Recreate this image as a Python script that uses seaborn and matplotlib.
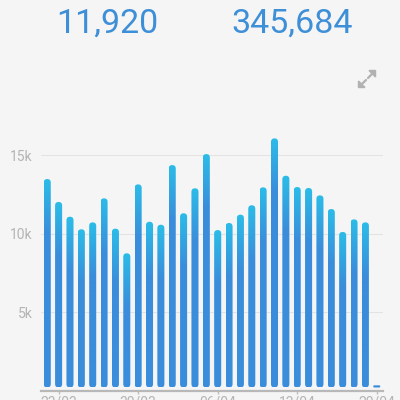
import matplotlib
matplotlib.use("Agg")
import matplotlib.pyplot as plt
import seaborn as sns
import numpy as np
import pandas as pd
from matplotlib.patches import FancyBboxPatch, Polygon
from matplotlib.colors import LinearSegmentedColormap
from matplotlib.lines import Line2D

# daily views, 22/03 .. 20/04
days = ["22/03", "23/03", "24/03", "25/03", "26/03", "27/03", "28/03", "29/03",
        "30/03", "31/03", "01/04", "02/04", "03/04", "04/04", "05/04", "06/04",
        "07/04", "08/04", "09/04", "10/04", "11/04", "12/04", "13/04", "14/04",
        "15/04", "16/04", "17/04", "18/04", "19/04", "20/04"]
views = [13470, 12010, 11070, 10270, 10710, 12240, 10310, 8740, 13130, 10750,
         10560, 14360, 11290, 12880, 15060, 10220, 10670, 11200, 11800, 12940,
         16060, 13680, 12960, 12900, 12430, 11560, 10100, 10900, 10710, 330]
tick_days = ["23/03", "30/03", "06/04", "13/04", "20/04"]
y_ticks = [5000, 10000, 15000]
y_tick_labels = ["5k", "10k", "15k"]
today_count = "11,920"
total_count = "345,684"

bg = "#f5f5f5"
blue = "#3a8ddb"
cyan = "#2bbde8"
grey = "#b4b4b4"

sns.set_theme(style="white")
plt.rcParams['font.family'] = ['Roboto', 'DejaVu Sans']

fig = plt.figure(figsize=(4, 4), dpi=100, facecolor=bg)
ax = fig.add_axes([0.1025, 0.02375, 0.855, 0.6672])
ax.set_facecolor(bg)

df = pd.DataFrame({"day": days, "views": views})
sns.barplot(data=df, x="day", y="views", color=blue, saturation=1,
            width=0.62, ax=ax)

ax.set_xlim(-0.55, 29.55)
ax.set_ylim(0, 17000)

# pixel scale, for rounded corners
p0 = ax.transData.transform((0, 0))
p1 = ax.transData.transform((1, 1000))
px_x = p1[0] - p0[0]
px_y = (p1[1] - p0[1]) / 1000.0

gap = 3.0 / px_y          # small gap above the axis line
fade = 55.0 / px_y        # gradient length from the bar top
cmap = LinearSegmentedColormap.from_list("bar", [blue, cyan])

for p in list(ax.patches):
    x0, w, h = p.get_x(), p.get_width(), p.get_height()
    p.set_visible(False)
    top = h
    hh = max(top - gap, 1.0)
    aspect = px_x / px_y
    r_eff = min(w / 2, hh / aspect / 2)
    box = FancyBboxPatch((x0, gap), w, hh,
                         boxstyle=f"round,pad=0,rounding_size={r_eff}",
                         mutation_aspect=aspect, facecolor="none",
                         edgecolor="none", transform=ax.transData)
    ax.add_patch(box)
    if hh < 3.0 / px_y:
        # very small bar: plain dash
        box.set_facecolor(blue)
        box.set_zorder(3)
        continue
    yy = np.linspace(gap, top, 200)
    grad = np.clip(1 - (top - yy) / fade, 0, 1)[:, None]
    im = ax.imshow(grad, cmap=cmap, vmin=0, vmax=1, origin="lower",
                   extent=(x0, x0 + w, gap, top), aspect="auto",
                   interpolation="bilinear", zorder=3)
    im.set_clip_path(box)

ax.set_xlim(-0.55, 29.55)
ax.set_ylim(0, 17000)

# grid and axes
ax.set_yticks(y_ticks)
ax.set_yticklabels(y_tick_labels)
for t in y_ticks:
    ax.axhline(t, color="#e3e3e3", lw=0.8, zorder=1)
ax.set_xticks([days.index(d) for d in tick_days])
ax.set_xticklabels(tick_days)
ax.tick_params(axis="y", length=0, pad=6, labelsize=10, labelcolor=grey)
ax.tick_params(axis="x", length=2.5, width=1, color="#bdbdbd", pad=1,
               labelsize=10, labelcolor=grey, bottom=True)
ax.set_xlabel("")
ax.set_ylabel("")
for s in ["top", "right", "left"]:
    ax.spines[s].set_visible(False)
ax.spines["bottom"].set_color("#b8b8b8")
ax.spines["bottom"].set_linewidth(1.6)
ax.spines["bottom"].set_zorder(4)

# header numbers
fig.text(107.5 / 400, 1 - 33 / 400, today_count, ha="center", va="baseline",
         fontsize=24.5, color="#3d8fd8")
fig.text(292.5 / 400, 1 - 33 / 400, total_count, ha="center", va="baseline",
         fontsize=24.5, color="#3d8fd8")

# expand icon
def fx(x):
    return x / 400


def fy(y):
    return 1 - y / 400


icon = "#b2b2b2"
fig.add_artist(Line2D([fx(368), fx(373)], [fy(78), fy(73)], color=icon,
                      lw=1.6, transform=fig.transFigure))
fig.add_artist(Line2D([fx(361), fx(366)], [fy(85), fy(80)], color=icon,
                      lw=1.6, transform=fig.transFigure))
fig.add_artist(Polygon([(fx(375.5), fy(70.5)), (fx(369), fy(70.5)),
                        (fx(375.5), fy(77))], closed=True, color=icon,
                       transform=fig.transFigure))
fig.add_artist(Polygon([(fx(358.5), fy(87.5)), (fx(358.5), fy(81)),
                        (fx(365), fy(87.5))], closed=True, color=icon,
                       transform=fig.transFigure))

fig.savefig("out.png", dpi=100, facecolor=bg)
